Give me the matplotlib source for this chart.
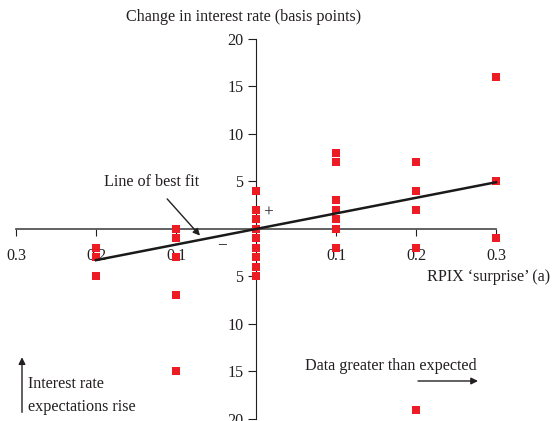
import matplotlib
matplotlib.use("Agg")
import matplotlib.pyplot as plt
import numpy as np

plt.rcParams['font.family'] = ['Liberation Serif', 'DejaVu Serif']

# RPIX surprise (x) and change in interest rate in basis points (y)
x_m02 = [-0.2, -0.2, -0.2]
y_m02 = [-2, -3, -5]
x_m01 = [-0.1, -0.1, -0.1, -0.1, -0.1]
y_m01 = [0, -1, -3, -7, -15]
x_00 = [0.0] * 9
y_00 = [4, 2, 1, 0, -1, -2, -3, -4, -5]
x_01 = [0.1] * 7
y_01 = [8, 7, 3, 2, 1, 0, -2]
x_02 = [0.2] * 5
y_02 = [7, 4, 2, -2, -19]
x_03 = [0.3] * 3
y_03 = [16, 5, -1]

fit_x = [-0.2, 0.3]
fit_slope = 16.4

x_ticks = [-0.3, -0.2, -0.1, 0.1, 0.2, 0.3]
x_labels = ["0.3", "0.2", "0.1", "0.1", "0.2", "0.3"]
y_ticks = [20, 15, 10, 5, -5, -10, -15, -20]
y_labels = ["20", "15", "10", "5", "5", "10", "15", "20"]

red = "#ED1C24"
ink = "#231F20"
fs = 11.6

fig = plt.figure(figsize=(5.52, 4.21), dpi=100)
ax = fig.add_axes([0, 0, 1, 1])
ax.set_xlim(-0.32, 0.37)
ax.set_ylim(-20.21, 24.1)
ax.patch.set_alpha(0)

for s in ["top", "right"]:
    ax.spines[s].set_visible(False)
ax.spines["left"].set_position(("data", 0))
ax.spines["bottom"].set_position(("data", 0))
ax.spines["left"].set_bounds(-20, 20)
ax.spines["bottom"].set_bounds(-0.3, 0.3)
ax.spines["left"].set_color(ink)
ax.spines["bottom"].set_color("#555555")
ax.spines["bottom"].set_linewidth(1.3)

ax.set_xticks(x_ticks, labels=x_labels)
ax.set_yticks(y_ticks, labels=y_labels)
ax.tick_params(axis="x", direction="out", length=5, pad=8.5, labelsize=fs,
               colors=ink)
ax.tick_params(axis="y", direction="out", length=6, pad=3, labelsize=fs,
               colors=ink)

xs = x_m02 + x_m01 + x_00 + x_01 + x_02 + x_03
ys = y_m02 + y_m01 + y_00 + y_01 + y_02 + y_03
ax.plot(xs, ys, "s", color=red, markersize=5.6, markeredgewidth=0,
        clip_on=False, zorder=3)

fx = np.array(fit_x)
ax.plot(fx, fit_slope * fx, color="#1a1a1a", linewidth=1.8, zorder=4)

ax.text(-0.015, 22.3, "Change in interest rate (basis points)", ha="center",
        va="center", fontsize=fs, color=ink)
ax.text(0.3675, -5.05, "RPIX \u2018surprise\u2019 (a)", ha="right",
        va="center", fontsize=fs, color=ink)
ax.annotate("Line of best fit", xy=(-0.07, -0.7), xytext=(-0.13, 4.95),
            ha="center", va="center", fontsize=fs, color=ink,
            arrowprops=dict(arrowstyle="-|>", color=ink, lw=1,
                            shrinkA=6, shrinkB=0, mutation_scale=10))
ax.text(0.015, 1.7, "+", ha="center", va="center", fontsize=12.5, color=ink)
ax.text(-0.0425, -1.7, "\u2212", ha="center", va="center", fontsize=12.5,
        color=ink)

ax.text(0.061, -14.4, "Data greater than expected", ha="left", va="center",
        fontsize=fs, color=ink)
ax.annotate("", xy=(0.2775, -16.0), xytext=(0.2025, -16.0),
            arrowprops=dict(arrowstyle="-|>", color=ink, lw=1,
                            mutation_scale=10, shrinkA=0, shrinkB=0))
ax.text(-0.285, -17.5, "Interest rate\nexpectations rise", ha="left",
        va="center", fontsize=fs, color=ink, linespacing=1.55)
ax.annotate("", xy=(-0.2925, -13.5), xytext=(-0.2925, -19.3),
            arrowprops=dict(arrowstyle="-|>", color=ink, lw=1,
                            mutation_scale=10, shrinkA=0, shrinkB=0))

fig.savefig("out.png", dpi=100)
